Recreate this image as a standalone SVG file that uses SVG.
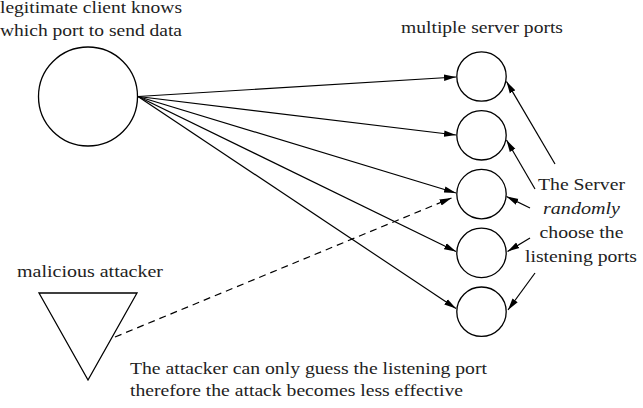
<svg xmlns="http://www.w3.org/2000/svg" width="643" height="408" viewBox="0 0 643 408" font-family="Liberation Serif, serif">
<style>
.n{fill:#fff;stroke:#000;stroke-width:1.3}
.t{font-size:16px;fill:#222}
.c{stroke:#000;stroke-width:1.2;fill:none}
</style>
<defs>
<marker id="ah" viewBox="0 0 12 8" refX="12" refY="4" markerWidth="12" markerHeight="8" markerUnits="userSpaceOnUse" orient="auto">
<path d="M0,0.8 L12,4 L0,7.2 Z" fill="#000"/>
</marker>
</defs>
<rect width="643" height="408" fill="#fff"/>
<g id="connectors">
<line class="c" x1="138" y1="96.5" x2="456" y2="77" marker-end="url(#ah)"/>
<line class="c" x1="138" y1="96.5" x2="456" y2="135" marker-end="url(#ah)"/>
<line class="c" x1="138" y1="96.5" x2="456" y2="193" marker-end="url(#ah)"/>
<line class="c" x1="138" y1="96.5" x2="456" y2="251.5" marker-end="url(#ah)"/>
<line class="c" x1="138" y1="96.5" x2="456" y2="308.5" marker-end="url(#ah)"/>
<line class="c" x1="115" y1="337" x2="451.5" y2="198" stroke-dasharray="7,5" marker-end="url(#ah)"/>
<line class="c" x1="555" y1="164" x2="506.5" y2="81.5" marker-end="url(#ah)"/>
<line class="c" x1="535" y1="189" x2="506.5" y2="140" marker-end="url(#ah)"/>
<line class="c" x1="530" y1="208" x2="506.5" y2="196.5" marker-end="url(#ah)"/>
<line class="c" x1="530" y1="238" x2="507.5" y2="251.5" marker-end="url(#ah)"/>
<line class="c" x1="535" y1="273" x2="508" y2="310" marker-end="url(#ah)"/>
</g>
<g id="client">
<circle class="n" cx="88" cy="96.5" r="49.5"/>
<text class="t" x="91" y="13" text-anchor="middle" textLength="182" lengthAdjust="spacingAndGlyphs">legitimate client knows</text>
<text class="t" x="91" y="36" text-anchor="middle" textLength="182" lengthAdjust="spacingAndGlyphs">which port to send data</text>
</g>
<g id="ports-label">
<text class="t" x="482" y="33" text-anchor="middle" textLength="162" lengthAdjust="spacingAndGlyphs">multiple server ports</text>
</g>
<g id="port1"><circle class="n" cx="481.5" cy="76.5" r="24.7"/></g>
<g id="port2"><circle class="n" cx="481.5" cy="135.3" r="24.7"/></g>
<g id="port3"><circle class="n" cx="481.5" cy="194.1" r="24.7"/></g>
<g id="port4"><circle class="n" cx="481.5" cy="252.9" r="24.7"/></g>
<g id="port5"><circle class="n" cx="481.5" cy="311.7" r="24.7"/></g>
<g id="server-note">
<text class="t" x="581.5" y="190" text-anchor="middle" textLength="87" lengthAdjust="spacingAndGlyphs">The Server</text>
<text class="t" x="581.5" y="214" text-anchor="middle" font-style="italic" textLength="77" lengthAdjust="spacingAndGlyphs">randomly</text>
<text class="t" x="581.5" y="238" text-anchor="middle" textLength="84" lengthAdjust="spacingAndGlyphs">choose the</text>
<text class="t" x="581" y="262" text-anchor="middle" textLength="112" lengthAdjust="spacingAndGlyphs">listening ports</text>
</g>
<g id="attacker">
<polygon class="n" points="39,293 137,293 88,380"/>
<text class="t" x="90" y="277" text-anchor="middle" textLength="146" lengthAdjust="spacingAndGlyphs">malicious attacker</text>
</g>
<g id="attacker-note">
<text class="t" x="130" y="374" textLength="357" lengthAdjust="spacingAndGlyphs">The attacker can only guess the listening port</text>
<text class="t" x="130" y="396" textLength="333" lengthAdjust="spacingAndGlyphs">therefore the attack becomes less effective</text>
</g>
</svg>
